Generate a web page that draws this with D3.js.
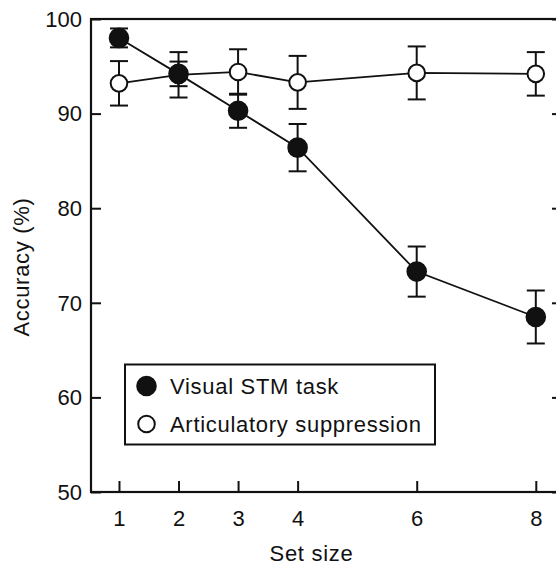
<!DOCTYPE html>
<html>
<head>
<meta charset="utf-8">
<script src="https://cdn.jsdelivr.net/npm/d3@7"></script>
<style>
  html, body { margin: 0; padding: 0; background: #fff; overflow: hidden; }
  svg { display: block; }
  text { font-family: "Liberation Sans", Arial, Helvetica, sans-serif; fill: #111; }
</style>
</head>
<body>
<svg id="chart" width="556" height="569"></svg>
<script>
// ---- data ----
const setSizes = [1, 2, 3, 4, 6, 8];
const visualSTM = [98.0, 94.2, 90.3, 86.4, 73.3, 68.5];
const visualSTMErr = [1.0, 1.3, 1.8, 2.5, 2.65, 2.8];
const articulatory = [93.2, 94.1, 94.4, 93.3, 94.3, 94.2];
const articulatoryErr = [2.35, 2.4, 2.4, 2.8, 2.8, 2.3];
const xTicks = [1, 2, 3, 4, 6, 8];
const yTicks = [50, 60, 70, 80, 90, 100];
const seriesNames = ["Visual STM task", "Articulatory suppression"];
const xTitle = "Set size";
const yTitle = "Accuracy (%)";

// ---- layout ----
const mLeft = 91, mRight = 562, mTop = 19, mBottom = 492;
const svg = d3.select("#chart");
const x = d3.scaleLinear().domain([0.53, 8.44]).range([mLeft, mRight]);
const y = d3.scaleLinear().domain([50, 100]).range([mBottom, mTop]);

// frame
svg.append("rect")
  .attr("x", mLeft).attr("y", mTop)
  .attr("width", mRight - mLeft).attr("height", mBottom - mTop)
  .attr("fill", "none").attr("stroke", "#111").attr("stroke-width", 2.2);

// axes
const yAxis = d3.axisLeft(y).tickValues(yTicks).tickSize(-10).tickPadding(9);
const gy = svg.append("g").attr("transform", `translate(${mLeft},0)`).call(yAxis);
const yAxisR = d3.axisRight(y).tickValues(yTicks).tickSize(-10).tickFormat("");
const gyr = svg.append("g").attr("transform", `translate(${mRight},0)`).call(yAxisR);
const xAxis = d3.axisBottom(x).tickValues(xTicks).tickSize(-11).tickPadding(18);
const gx = svg.append("g").attr("transform", `translate(0,${mBottom})`).call(xAxis);

[gy, gyr, gx].forEach(g => {
  g.select(".domain").remove();
  g.selectAll(".tick line").attr("stroke", "#111").attr("stroke-width", 2);
  g.selectAll(".tick text")
    .style("font-family", '"Liberation Sans", Arial, sans-serif')
    .style("font-size", "22px").attr("fill", "#111");
});
gy.selectAll(".tick text").attr("dy", "0.33em");

// axis titles
svg.append("text")
  .attr("x", (mLeft + 536) / 2 - 2).attr("y", 561)
  .attr("text-anchor", "middle")
  .style("font-size", "22px").style("letter-spacing", "0.7px")
  .text(xTitle);
svg.append("text")
  .attr("transform", `translate(29,${267}) rotate(-90)`)
  .attr("text-anchor", "middle")
  .style("font-size", "22px").style("letter-spacing", "0.7px")
  .text(yTitle);

// series
function makeData(vals, errs) {
  return setSizes.map((s, i) => ({ s, v: vals[i], e: errs[i] }));
}
const series = [
  { data: makeData(articulatory, articulatoryErr), fill: "#fff" },
  { data: makeData(visualSTM, visualSTMErr), fill: "#111" }
];
const line = d3.line().x(d => x(d.s)).y(d => y(d.v));
const capW = 9;
const r = 9.3;

series.forEach(ser => {
  const g = svg.append("g");
  g.append("path").datum(ser.data)
    .attr("d", line).attr("fill", "none")
    .attr("stroke", "#111").attr("stroke-width", 1.8);
  const eb = g.selectAll(".eb").data(ser.data).enter().append("g");
  eb.append("line")
    .attr("x1", d => x(d.s)).attr("x2", d => x(d.s))
    .attr("y1", d => y(d.v + d.e)).attr("y2", d => y(d.v - d.e))
    .attr("stroke", "#111").attr("stroke-width", 2);
  eb.append("line")
    .attr("x1", d => x(d.s) - capW).attr("x2", d => x(d.s) + capW)
    .attr("y1", d => y(d.v + d.e)).attr("y2", d => y(d.v + d.e))
    .attr("stroke", "#111").attr("stroke-width", 2);
  eb.append("line")
    .attr("x1", d => x(d.s) - capW).attr("x2", d => x(d.s) + capW)
    .attr("y1", d => y(d.v - d.e)).attr("y2", d => y(d.v - d.e))
    .attr("stroke", "#111").attr("stroke-width", 2);
  g.selectAll("circle").data(ser.data).enter().append("circle")
    .attr("cx", d => x(d.s)).attr("cy", d => y(d.v))
    .attr("r", ser.fill === "#fff" ? r - 1 : r)
    .attr("fill", ser.fill).attr("stroke", "#111").attr("stroke-width", 2);
});

// legend
const lg = svg.append("g");
lg.append("rect")
  .attr("x", 125).attr("y", 364.5).attr("width", 310).attr("height", 80)
  .attr("fill", "#fff").attr("stroke", "#111").attr("stroke-width", 2);
const legendItems = [
  { name: seriesNames[0], fill: "#111", cy: 386 },
  { name: seriesNames[1], fill: "#fff", cy: 424 }
];
legendItems.forEach(it => {
  lg.append("circle").attr("cx", 146.5).attr("cy", it.cy)
    .attr("r", it.fill === "#fff" ? 8.3 : 9.3)
    .attr("fill", it.fill).attr("stroke", "#111").attr("stroke-width", 2);
  lg.append("text").attr("x", 170).attr("y", it.cy + 7.5)
    .style("font-size", "22px").style("letter-spacing", "0.7px")
    .text(it.name);
});
</script>
</body>
</html>
